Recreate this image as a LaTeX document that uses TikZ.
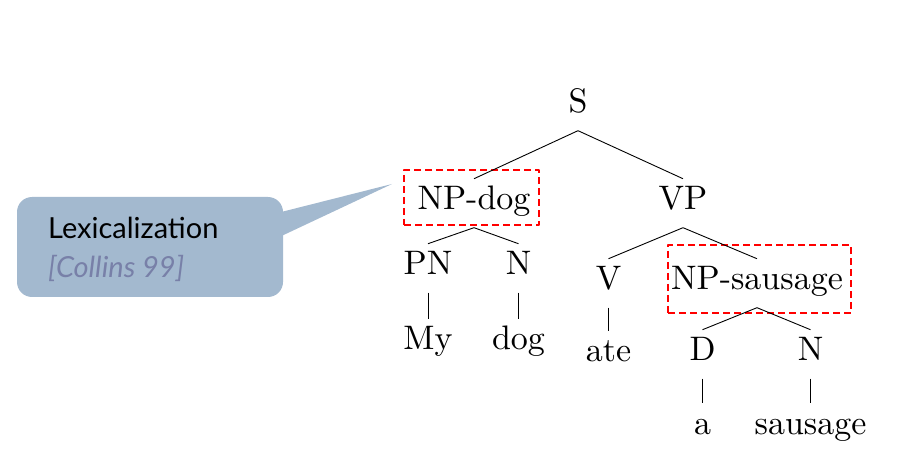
\documentclass[tikz,border=0pt]{standalone}
\usepackage{fontspec}
\newfontfamily\calloutfont{Lato}
\usetikzlibrary{shapes}

\definecolor{calloutfill}{RGB}{163,185,207}
\definecolor{citecol}{RGB}{120,128,168}

\tikzset{
  cat/.style={scale=3.4,inner sep=2pt,text height=7pt,text depth=3pt,anchor=base},
  branch/.style={line width=0.9pt},
  headbox/.style={draw=red,line width=2pt,dash pattern=on 7pt off 4pt,inner sep=0pt},
}

\begin{document}
\begin{tikzpicture}[x=1pt,y=-1pt,line join=bevel]

\useasboundingbox (0,0) rectangle (914,473);

% Node: callout
\begin{scope}
  \node [fill=calloutfill,rounded corners=15pt,minimum width=266pt,minimum height=100pt,inner sep=0pt] (lexbox) at (150,247) {};
  \coordinate (tip) at (392,184);
  \fill [calloutfill] ([xshift=-6pt,yshift=34pt]lexbox.east) -- (tip) -- ([xshift=-6pt,yshift=9pt]lexbox.east) -- cycle;
  \node [anchor=base west,inner sep=0pt,font=\calloutfont\fontsize{29}{34}\selectfont] (lexlabel) at (48,239) {Lexicalization};
  \node [anchor=base west,inner sep=0pt,text=citecol,font=\calloutfont\itshape\fontsize{29}{34}\selectfont] (citelabel) at (48,278) {[Collins 99]};
\end{scope}

% Node: S
\node [cat] (S) at (578,113) {S};

% Node: NP-dog
\node [cat] (npdog) at (474,210) {NP-dog};
\node [headbox,minimum width=135pt,minimum height=55pt] (npdogbox) at (471.5,197.5) {};

% Node: VP
\node [cat] (VP) at (683,210) {VP};

% Node: PN, N
\node [cat] (PN) at (428,275) {PN};
\node [cat] (Nleft) at (518.5,275) {N};

% Node: My, dog
\node [cat] (my) at (428,350) {My};
\node [cat] (dog) at (518.5,350) {dog};

% Node: V
\node [cat] (V) at (608.5,290) {V};

% Node: NP-sausage
\node [cat] (npsausage) at (757,290) {NP-sausage};
\node [headbox,minimum width=183pt,minimum height=68pt] (npsausagebox) at (759.5,279) {};

% Node: ate
\node [cat] (ate) at (608.5,362) {ate};

% Node: D, N
\node [cat] (D) at (702.5,361) {D};
\node [cat] (Nright) at (810.5,361) {N};

% Node: a, sausage
\node [cat] (a) at (702.5,434) {a};
\node [cat] (sausage) at (810.5,434) {sausage};

% Edge: S -> NP-dog, S -> VP
\draw [branch] (S.south) -- (npdog.north);
\draw [branch] (S.south) -- (VP.north);

% Edge: NP-dog -> PN, NP-dog -> N
\draw [branch] (npdog.south) -- (PN.north);
\draw [branch] (npdog.south) -- (Nleft.north);

% Edge: PN -> My, N -> dog
\draw [branch] (PN.south) -- (my.north);
\draw [branch] (Nleft.south) -- (dog.north);

% Edge: VP -> V, VP -> NP-sausage
\draw [branch] (VP.south) -- (V.north);
\draw [branch] (VP.south) -- (npsausage.north);

% Edge: V -> ate
\draw [branch] (V.south) -- (ate.north);

% Edge: NP-sausage -> D, NP-sausage -> N
\draw [branch] (npsausage.south) -- (D.north);
\draw [branch] (npsausage.south) -- (Nright.north);

% Edge: D -> a, N -> sausage
\draw [branch] (D.south) -- (a.north);
\draw [branch] (Nright.south) -- (sausage.north);

\end{tikzpicture}
\end{document}
